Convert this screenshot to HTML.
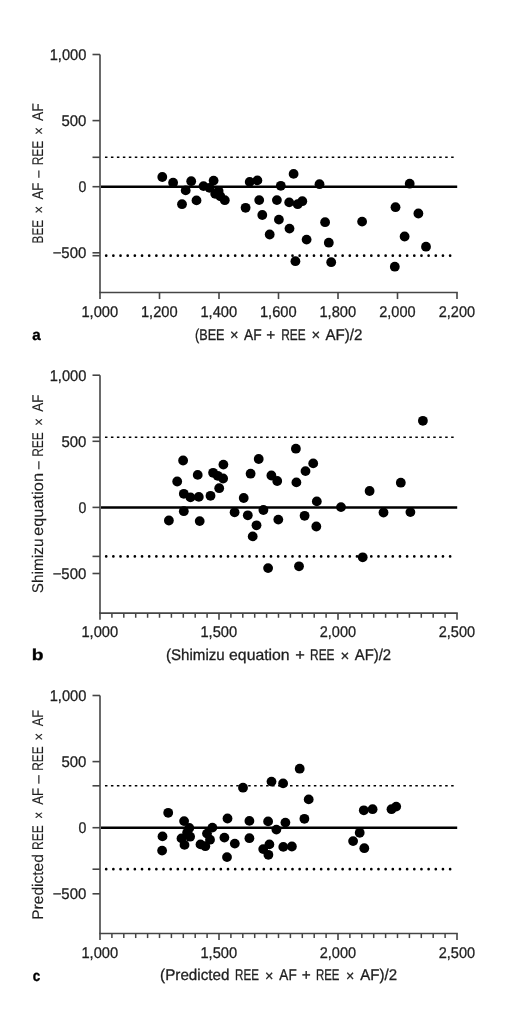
<!DOCTYPE html>
<html><head><meta charset="utf-8"><title>Bland-Altman plots</title>
<style>
html,body{margin:0;padding:0;background:#fff;}
body{width:520px;height:1032px;overflow:hidden;}
svg{display:block;will-change:transform;text-rendering:geometricPrecision;}
text{font-family:"Liberation Sans",sans-serif;font-size:15.5px;fill:#1e1e1e;stroke:#1e1e1e;stroke-width:0.3px;}
text.vt{stroke-width:0.12px;}
text.lt{font-weight:bold;fill:#000;stroke:#000;stroke-width:0.35px;}
.ax{stroke:#454545;stroke-width:1.6;}
.mn{stroke-width:1.5;}
circle{fill:#000;}
</style></head><body>
<svg width="520" height="1032" viewBox="0 0 520 1032">
<rect width="520" height="1032" fill="#fff"/>
<line x1="100" y1="54.50" x2="100" y2="292.46" class="ax"/>
<line x1="99.2" y1="292.46" x2="457.8" y2="292.46" class="ax"/>
<line x1="92.5" y1="54.50" x2="100" y2="54.50" class="ax"/>
<text x="49.70" y="59.90" textLength="36.62" lengthAdjust="spacingAndGlyphs">1,000</text>
<line x1="92.5" y1="120.60" x2="100" y2="120.60" class="ax"/>
<text x="61.40" y="126.00" textLength="24.95" lengthAdjust="spacingAndGlyphs">500</text>
<line x1="92.5" y1="186.70" x2="100" y2="186.70" class="ax"/>
<text x="78.44" y="192.10" textLength="7.84" lengthAdjust="spacingAndGlyphs">0</text>
<line x1="92.5" y1="252.80" x2="100" y2="252.80" class="ax"/>
<text x="52.65" y="258.20" textLength="33.68" lengthAdjust="spacingAndGlyphs">−500</text>
<line x1="92.5" y1="157.30" x2="100" y2="157.30" class="ax"/>
<line x1="92.5" y1="255.70" x2="100" y2="255.70" class="ax"/>
<line x1="100.00" y1="292.46" x2="100.00" y2="299.06" class="ax"/>
<text x="81.40" y="316.56" textLength="36.72" lengthAdjust="spacingAndGlyphs">1,000</text>
<line x1="159.50" y1="292.46" x2="159.50" y2="299.06" class="ax"/>
<text x="140.90" y="316.56" textLength="36.72" lengthAdjust="spacingAndGlyphs">1,200</text>
<line x1="219.00" y1="292.46" x2="219.00" y2="299.06" class="ax"/>
<text x="200.40" y="316.56" textLength="36.72" lengthAdjust="spacingAndGlyphs">1,400</text>
<line x1="278.50" y1="292.46" x2="278.50" y2="299.06" class="ax"/>
<text x="259.90" y="316.56" textLength="36.72" lengthAdjust="spacingAndGlyphs">1,600</text>
<line x1="338.00" y1="292.46" x2="338.00" y2="299.06" class="ax"/>
<text x="319.40" y="316.56" textLength="36.72" lengthAdjust="spacingAndGlyphs">1,800</text>
<line x1="397.50" y1="292.46" x2="397.50" y2="299.06" class="ax"/>
<text x="379.27" y="316.56" textLength="36.34" lengthAdjust="spacingAndGlyphs">2,000</text>
<line x1="457.00" y1="292.46" x2="457.00" y2="299.06" class="ax"/>
<text x="438.77" y="316.56" textLength="36.34" lengthAdjust="spacingAndGlyphs">2,200</text>
<line x1="104.95" y1="157.30" x2="453.7" y2="157.30" stroke="#000" stroke-width="1.5" stroke-dasharray="2.5 3.469"/>
<line x1="106.2" y1="255.70" x2="450.5" y2="255.70" stroke="#000" stroke-width="2.7" stroke-linecap="round" stroke-dasharray="0 7.165"/>
<line x1="101" y1="186.70" x2="457.2" y2="186.70" stroke="#000" stroke-width="2.5"/>
<circle cx="162.3" cy="177" r="4.9"/>
<circle cx="173.1" cy="182.7" r="4.9"/>
<circle cx="191.2" cy="181.2" r="4.9"/>
<circle cx="185.7" cy="190.4" r="4.9"/>
<circle cx="182" cy="204.2" r="4.9"/>
<circle cx="196.5" cy="200.4" r="4.9"/>
<circle cx="203.5" cy="186.1" r="4.9"/>
<circle cx="213.6" cy="180.6" r="4.9"/>
<circle cx="209.5" cy="187.8" r="4.9"/>
<circle cx="218.6" cy="191" r="4.9"/>
<circle cx="215.2" cy="193.8" r="4.9"/>
<circle cx="220.3" cy="196.3" r="4.9"/>
<circle cx="224.8" cy="200.2" r="4.9"/>
<circle cx="245.6" cy="207.8" r="4.9"/>
<circle cx="249.7" cy="181.9" r="4.9"/>
<circle cx="257.4" cy="180.4" r="4.9"/>
<circle cx="259.2" cy="200.1" r="4.9"/>
<circle cx="262.3" cy="215" r="4.9"/>
<circle cx="269.7" cy="234.5" r="4.9"/>
<circle cx="276.9" cy="200.1" r="4.9"/>
<circle cx="278.9" cy="219.6" r="4.9"/>
<circle cx="280.8" cy="185.8" r="4.9"/>
<circle cx="289.2" cy="202.4" r="4.9"/>
<circle cx="293.6" cy="173.9" r="4.9"/>
<circle cx="297.7" cy="204.2" r="4.9"/>
<circle cx="302.3" cy="201.2" r="4.9"/>
<circle cx="289.5" cy="228.6" r="4.9"/>
<circle cx="306.6" cy="239.6" r="4.9"/>
<circle cx="319.5" cy="184.2" r="4.9"/>
<circle cx="325.1" cy="222.2" r="4.9"/>
<circle cx="328.8" cy="242.7" r="4.9"/>
<circle cx="331.2" cy="262.2" r="4.9"/>
<circle cx="295.4" cy="261.2" r="4.9"/>
<circle cx="362.1" cy="221.6" r="4.9"/>
<circle cx="395.5" cy="207.2" r="4.9"/>
<circle cx="394.8" cy="266.7" r="4.9"/>
<circle cx="404.6" cy="236.5" r="4.9"/>
<circle cx="409.7" cy="183.7" r="4.9"/>
<circle cx="418.4" cy="213.5" r="4.9"/>
<circle cx="426" cy="246.7" r="4.9"/>
<text transform="translate(42.50 121.07) rotate(-90)" textLength="17.77" lengthAdjust="spacingAndGlyphs" font-size="15.3" class="vt">AF</text>
<text transform="translate(43.50 134.71) rotate(-90)" textLength="7.61" lengthAdjust="spacingAndGlyphs" font-size="15.3" class="vt">×</text>
<text transform="translate(42.50 165.36) rotate(-90)" textLength="24.76" lengthAdjust="spacingAndGlyphs" font-size="15.3" class="vt">REE</text>
<text transform="translate(43.70 178.54) rotate(-90)" textLength="8.67" lengthAdjust="spacingAndGlyphs" font-size="15.3" class="vt">−</text>
<text transform="translate(42.50 199.57) rotate(-90)" textLength="16.93" lengthAdjust="spacingAndGlyphs" font-size="15.3" class="vt">AF</text>
<text transform="translate(43.50 213.51) rotate(-90)" textLength="7.61" lengthAdjust="spacingAndGlyphs" font-size="15.3" class="vt">×</text>
<text transform="translate(42.50 243.44) rotate(-90)" textLength="23.52" lengthAdjust="spacingAndGlyphs" font-size="15.3" class="vt">BEE</text>
<text x="195.04" y="339.80" textLength="29.52" lengthAdjust="spacingAndGlyphs">(BEE</text>
<text x="229.88" y="340.40" textLength="8.53" lengthAdjust="spacingAndGlyphs">×</text>
<text x="243.93" y="339.80" textLength="17.66" lengthAdjust="spacingAndGlyphs">AF</text>
<text x="266.33" y="339.80" textLength="9.03" lengthAdjust="spacingAndGlyphs">+</text>
<text x="281.25" y="339.80" textLength="24.44" lengthAdjust="spacingAndGlyphs">REE</text>
<text x="311.46" y="340.40" textLength="8.66" lengthAdjust="spacingAndGlyphs">×</text>
<text x="325.52" y="339.80" textLength="36.93" lengthAdjust="spacingAndGlyphs">AF)/2</text>
<text x="32.35" y="339.70" textLength="8.42" lengthAdjust="spacingAndGlyphs" font-size="18.0" class="lt">a</text>
<line x1="100" y1="375.20" x2="100" y2="613.16" class="ax"/>
<line x1="99.2" y1="613.16" x2="457.8" y2="613.16" class="ax"/>
<line x1="92.5" y1="375.20" x2="100" y2="375.20" class="ax"/>
<text x="49.70" y="380.60" textLength="36.62" lengthAdjust="spacingAndGlyphs">1,000</text>
<line x1="92.5" y1="441.30" x2="100" y2="441.30" class="ax"/>
<text x="61.40" y="446.70" textLength="24.95" lengthAdjust="spacingAndGlyphs">500</text>
<line x1="92.5" y1="507.40" x2="100" y2="507.40" class="ax"/>
<text x="78.44" y="512.80" textLength="7.84" lengthAdjust="spacingAndGlyphs">0</text>
<line x1="92.5" y1="573.50" x2="100" y2="573.50" class="ax"/>
<text x="52.65" y="578.90" textLength="33.68" lengthAdjust="spacingAndGlyphs">−500</text>
<line x1="92.5" y1="437.30" x2="100" y2="437.30" class="ax"/>
<line x1="92.5" y1="556.40" x2="100" y2="556.40" class="ax"/>
<line x1="111.90" y1="613.16" x2="111.90" y2="617.76" class="ax mn"/>
<line x1="123.80" y1="613.16" x2="123.80" y2="617.76" class="ax mn"/>
<line x1="135.70" y1="613.16" x2="135.70" y2="617.76" class="ax mn"/>
<line x1="147.60" y1="613.16" x2="147.60" y2="617.76" class="ax mn"/>
<line x1="159.50" y1="613.16" x2="159.50" y2="617.76" class="ax mn"/>
<line x1="171.40" y1="613.16" x2="171.40" y2="617.76" class="ax mn"/>
<line x1="183.30" y1="613.16" x2="183.30" y2="617.76" class="ax mn"/>
<line x1="195.20" y1="613.16" x2="195.20" y2="617.76" class="ax mn"/>
<line x1="207.10" y1="613.16" x2="207.10" y2="617.76" class="ax mn"/>
<line x1="230.90" y1="613.16" x2="230.90" y2="617.76" class="ax mn"/>
<line x1="242.80" y1="613.16" x2="242.80" y2="617.76" class="ax mn"/>
<line x1="254.70" y1="613.16" x2="254.70" y2="617.76" class="ax mn"/>
<line x1="266.60" y1="613.16" x2="266.60" y2="617.76" class="ax mn"/>
<line x1="278.50" y1="613.16" x2="278.50" y2="617.76" class="ax mn"/>
<line x1="290.40" y1="613.16" x2="290.40" y2="617.76" class="ax mn"/>
<line x1="302.30" y1="613.16" x2="302.30" y2="617.76" class="ax mn"/>
<line x1="314.20" y1="613.16" x2="314.20" y2="617.76" class="ax mn"/>
<line x1="326.10" y1="613.16" x2="326.10" y2="617.76" class="ax mn"/>
<line x1="349.90" y1="613.16" x2="349.90" y2="617.76" class="ax mn"/>
<line x1="361.80" y1="613.16" x2="361.80" y2="617.76" class="ax mn"/>
<line x1="373.70" y1="613.16" x2="373.70" y2="617.76" class="ax mn"/>
<line x1="385.60" y1="613.16" x2="385.60" y2="617.76" class="ax mn"/>
<line x1="397.50" y1="613.16" x2="397.50" y2="617.76" class="ax mn"/>
<line x1="409.40" y1="613.16" x2="409.40" y2="617.76" class="ax mn"/>
<line x1="421.30" y1="613.16" x2="421.30" y2="617.76" class="ax mn"/>
<line x1="433.20" y1="613.16" x2="433.20" y2="617.76" class="ax mn"/>
<line x1="445.10" y1="613.16" x2="445.10" y2="617.76" class="ax mn"/>
<line x1="100.00" y1="613.16" x2="100.00" y2="619.76" class="ax"/>
<text x="81.40" y="637.26" textLength="36.72" lengthAdjust="spacingAndGlyphs">1,000</text>
<line x1="219.00" y1="613.16" x2="219.00" y2="619.76" class="ax"/>
<text x="200.40" y="637.26" textLength="36.72" lengthAdjust="spacingAndGlyphs">1,500</text>
<line x1="338.00" y1="613.16" x2="338.00" y2="619.76" class="ax"/>
<text x="319.77" y="637.26" textLength="36.34" lengthAdjust="spacingAndGlyphs">2,000</text>
<line x1="457.00" y1="613.16" x2="457.00" y2="619.76" class="ax"/>
<text x="438.77" y="637.26" textLength="36.34" lengthAdjust="spacingAndGlyphs">2,500</text>
<line x1="104.95" y1="437.30" x2="453.7" y2="437.30" stroke="#000" stroke-width="1.5" stroke-dasharray="2.5 3.469"/>
<line x1="106.2" y1="556.40" x2="450.5" y2="556.40" stroke="#000" stroke-width="2.7" stroke-linecap="round" stroke-dasharray="0 7.165"/>
<line x1="101" y1="507.40" x2="457.2" y2="507.40" stroke="#000" stroke-width="2.5"/>
<circle cx="183.1" cy="460.5" r="4.9"/>
<circle cx="177.2" cy="481.5" r="4.9"/>
<circle cx="197.7" cy="474.9" r="4.9"/>
<circle cx="223.4" cy="464.6" r="4.9"/>
<circle cx="213.1" cy="472.8" r="4.9"/>
<circle cx="217.7" cy="475.8" r="4.9"/>
<circle cx="223.1" cy="478.5" r="4.9"/>
<circle cx="219.2" cy="488.2" r="4.9"/>
<circle cx="183.8" cy="493.8" r="4.9"/>
<circle cx="190.5" cy="497.4" r="4.9"/>
<circle cx="198.8" cy="496.9" r="4.9"/>
<circle cx="210.5" cy="495.8" r="4.9"/>
<circle cx="183.8" cy="511.2" r="4.9"/>
<circle cx="168.9" cy="520.5" r="4.9"/>
<circle cx="199.7" cy="521.1" r="4.9"/>
<circle cx="234.6" cy="512.3" r="4.9"/>
<circle cx="295.9" cy="448.7" r="4.9"/>
<circle cx="258.7" cy="459" r="4.9"/>
<circle cx="250.6" cy="473.7" r="4.9"/>
<circle cx="271.4" cy="475.5" r="4.9"/>
<circle cx="277.2" cy="481" r="4.9"/>
<circle cx="305.5" cy="471.1" r="4.9"/>
<circle cx="313.2" cy="463.4" r="4.9"/>
<circle cx="296.4" cy="482.4" r="4.9"/>
<circle cx="243.7" cy="498" r="4.9"/>
<circle cx="247.8" cy="515.3" r="4.9"/>
<circle cx="263.4" cy="510" r="4.9"/>
<circle cx="278.3" cy="519.6" r="4.9"/>
<circle cx="304.6" cy="515.8" r="4.9"/>
<circle cx="256.5" cy="525.3" r="4.9"/>
<circle cx="252.7" cy="536.4" r="4.9"/>
<circle cx="268.1" cy="568.1" r="4.9"/>
<circle cx="369.6" cy="491" r="4.9"/>
<circle cx="316.8" cy="501.4" r="4.9"/>
<circle cx="341" cy="507.1" r="4.9"/>
<circle cx="316.3" cy="526.5" r="4.9"/>
<circle cx="362.7" cy="557.3" r="4.9"/>
<circle cx="299" cy="566.3" r="4.9"/>
<circle cx="422.9" cy="420.8" r="4.9"/>
<circle cx="400.8" cy="482.7" r="4.9"/>
<circle cx="383.5" cy="512.5" r="4.9"/>
<circle cx="410.4" cy="512.1" r="4.9"/>
<text transform="translate(42.50 411.77) rotate(-90)" textLength="17.25" lengthAdjust="spacingAndGlyphs" font-size="15.3" class="vt">AF</text>
<text transform="translate(43.50 425.81) rotate(-90)" textLength="7.61" lengthAdjust="spacingAndGlyphs" font-size="15.3" class="vt">×</text>
<text transform="translate(42.50 456.86) rotate(-90)" textLength="24.65" lengthAdjust="spacingAndGlyphs" font-size="15.3" class="vt">REE</text>
<text transform="translate(43.70 470.11) rotate(-90)" textLength="9.51" lengthAdjust="spacingAndGlyphs" font-size="15.3" class="vt">−</text>
<text transform="translate(42.50 535.94) rotate(-90)" textLength="63.04" lengthAdjust="spacingAndGlyphs" font-size="15.3" class="vt">equation</text>
<text transform="translate(42.50 593.19) rotate(-90)" textLength="54.62" lengthAdjust="spacingAndGlyphs" font-size="15.3" class="vt">Shimizu</text>
<text x="165.99" y="660.40" textLength="58.79" lengthAdjust="spacingAndGlyphs">(Shimizu</text>
<text x="229.09" y="660.40" textLength="60.57" lengthAdjust="spacingAndGlyphs">equation</text>
<text x="295.18" y="660.40" textLength="9.63" lengthAdjust="spacingAndGlyphs">+</text>
<text x="310.05" y="660.40" textLength="24.44" lengthAdjust="spacingAndGlyphs">REE</text>
<text x="340.45" y="661.00" textLength="8.79" lengthAdjust="spacingAndGlyphs">×</text>
<text x="354.73" y="660.40" textLength="36.42" lengthAdjust="spacingAndGlyphs">AF)/2</text>
<text x="31.85" y="660.10" textLength="11.73" lengthAdjust="spacingAndGlyphs" font-size="18.0" class="lt">b</text>
<line x1="100" y1="695.50" x2="100" y2="933.46" class="ax"/>
<line x1="99.2" y1="933.46" x2="457.8" y2="933.46" class="ax"/>
<line x1="92.5" y1="695.50" x2="100" y2="695.50" class="ax"/>
<text x="49.70" y="700.90" textLength="36.62" lengthAdjust="spacingAndGlyphs">1,000</text>
<line x1="92.5" y1="761.60" x2="100" y2="761.60" class="ax"/>
<text x="61.40" y="767.00" textLength="24.95" lengthAdjust="spacingAndGlyphs">500</text>
<line x1="92.5" y1="827.70" x2="100" y2="827.70" class="ax"/>
<text x="78.44" y="833.10" textLength="7.84" lengthAdjust="spacingAndGlyphs">0</text>
<line x1="92.5" y1="893.80" x2="100" y2="893.80" class="ax"/>
<text x="52.65" y="899.20" textLength="33.68" lengthAdjust="spacingAndGlyphs">−500</text>
<line x1="92.5" y1="785.80" x2="100" y2="785.80" class="ax"/>
<line x1="92.5" y1="869.20" x2="100" y2="869.20" class="ax"/>
<line x1="111.90" y1="933.46" x2="111.90" y2="938.06" class="ax mn"/>
<line x1="123.80" y1="933.46" x2="123.80" y2="938.06" class="ax mn"/>
<line x1="135.70" y1="933.46" x2="135.70" y2="938.06" class="ax mn"/>
<line x1="147.60" y1="933.46" x2="147.60" y2="938.06" class="ax mn"/>
<line x1="159.50" y1="933.46" x2="159.50" y2="938.06" class="ax mn"/>
<line x1="171.40" y1="933.46" x2="171.40" y2="938.06" class="ax mn"/>
<line x1="183.30" y1="933.46" x2="183.30" y2="938.06" class="ax mn"/>
<line x1="195.20" y1="933.46" x2="195.20" y2="938.06" class="ax mn"/>
<line x1="207.10" y1="933.46" x2="207.10" y2="938.06" class="ax mn"/>
<line x1="230.90" y1="933.46" x2="230.90" y2="938.06" class="ax mn"/>
<line x1="242.80" y1="933.46" x2="242.80" y2="938.06" class="ax mn"/>
<line x1="254.70" y1="933.46" x2="254.70" y2="938.06" class="ax mn"/>
<line x1="266.60" y1="933.46" x2="266.60" y2="938.06" class="ax mn"/>
<line x1="278.50" y1="933.46" x2="278.50" y2="938.06" class="ax mn"/>
<line x1="290.40" y1="933.46" x2="290.40" y2="938.06" class="ax mn"/>
<line x1="302.30" y1="933.46" x2="302.30" y2="938.06" class="ax mn"/>
<line x1="314.20" y1="933.46" x2="314.20" y2="938.06" class="ax mn"/>
<line x1="326.10" y1="933.46" x2="326.10" y2="938.06" class="ax mn"/>
<line x1="349.90" y1="933.46" x2="349.90" y2="938.06" class="ax mn"/>
<line x1="361.80" y1="933.46" x2="361.80" y2="938.06" class="ax mn"/>
<line x1="373.70" y1="933.46" x2="373.70" y2="938.06" class="ax mn"/>
<line x1="385.60" y1="933.46" x2="385.60" y2="938.06" class="ax mn"/>
<line x1="397.50" y1="933.46" x2="397.50" y2="938.06" class="ax mn"/>
<line x1="409.40" y1="933.46" x2="409.40" y2="938.06" class="ax mn"/>
<line x1="421.30" y1="933.46" x2="421.30" y2="938.06" class="ax mn"/>
<line x1="433.20" y1="933.46" x2="433.20" y2="938.06" class="ax mn"/>
<line x1="445.10" y1="933.46" x2="445.10" y2="938.06" class="ax mn"/>
<line x1="100.00" y1="933.46" x2="100.00" y2="940.06" class="ax"/>
<text x="81.40" y="957.56" textLength="36.72" lengthAdjust="spacingAndGlyphs">1,000</text>
<line x1="219.00" y1="933.46" x2="219.00" y2="940.06" class="ax"/>
<text x="200.40" y="957.56" textLength="36.72" lengthAdjust="spacingAndGlyphs">1,500</text>
<line x1="338.00" y1="933.46" x2="338.00" y2="940.06" class="ax"/>
<text x="319.77" y="957.56" textLength="36.34" lengthAdjust="spacingAndGlyphs">2,000</text>
<line x1="457.00" y1="933.46" x2="457.00" y2="940.06" class="ax"/>
<text x="438.77" y="957.56" textLength="36.34" lengthAdjust="spacingAndGlyphs">2,500</text>
<line x1="104.95" y1="785.80" x2="453.7" y2="785.80" stroke="#000" stroke-width="1.5" stroke-dasharray="2.5 3.469"/>
<line x1="106.2" y1="869.20" x2="450.5" y2="869.20" stroke="#000" stroke-width="2.7" stroke-linecap="round" stroke-dasharray="0 7.165"/>
<line x1="101" y1="827.70" x2="457.2" y2="827.70" stroke="#000" stroke-width="2.5"/>
<circle cx="168.2" cy="812.8" r="4.9"/>
<circle cx="162.5" cy="836.4" r="4.9"/>
<circle cx="162.1" cy="850.6" r="4.9"/>
<circle cx="184.1" cy="821.1" r="4.9"/>
<circle cx="189.3" cy="828" r="4.9"/>
<circle cx="187.1" cy="832.8" r="4.9"/>
<circle cx="190.1" cy="836.7" r="4.9"/>
<circle cx="181.5" cy="838.4" r="4.9"/>
<circle cx="184.5" cy="844.9" r="4.9"/>
<circle cx="212.4" cy="827.6" r="4.9"/>
<circle cx="207" cy="833.6" r="4.9"/>
<circle cx="210" cy="839.7" r="4.9"/>
<circle cx="200.5" cy="844.4" r="4.9"/>
<circle cx="205.3" cy="846.2" r="4.9"/>
<circle cx="227.5" cy="818.5" r="4.9"/>
<circle cx="224.4" cy="837.6" r="4.9"/>
<circle cx="234.8" cy="843.6" r="4.9"/>
<circle cx="227" cy="857.1" r="4.9"/>
<circle cx="299.7" cy="768.7" r="4.9"/>
<circle cx="271.5" cy="781.6" r="4.9"/>
<circle cx="283.1" cy="783.4" r="4.9"/>
<circle cx="243" cy="787.7" r="4.9"/>
<circle cx="308.7" cy="799.4" r="4.9"/>
<circle cx="249.4" cy="820.9" r="4.9"/>
<circle cx="268.1" cy="821.4" r="4.9"/>
<circle cx="285.4" cy="822.6" r="4.9"/>
<circle cx="304.4" cy="818.8" r="4.9"/>
<circle cx="276.4" cy="829.6" r="4.9"/>
<circle cx="249.4" cy="838.2" r="4.9"/>
<circle cx="269.4" cy="844.4" r="4.9"/>
<circle cx="263.2" cy="849.1" r="4.9"/>
<circle cx="268.4" cy="854.8" r="4.9"/>
<circle cx="283.3" cy="846.9" r="4.9"/>
<circle cx="291.9" cy="846.5" r="4.9"/>
<circle cx="363.8" cy="810.3" r="4.9"/>
<circle cx="372.6" cy="809.2" r="4.9"/>
<circle cx="391.5" cy="809.2" r="4.9"/>
<circle cx="396.2" cy="806.6" r="4.9"/>
<circle cx="359.7" cy="832.8" r="4.9"/>
<circle cx="353.1" cy="841.1" r="4.9"/>
<circle cx="364.3" cy="848.2" r="4.9"/>
<text transform="translate(42.50 726.36) rotate(-90)" textLength="16.42" lengthAdjust="spacingAndGlyphs" font-size="15.3" class="vt">AF</text>
<text transform="translate(43.50 740.41) rotate(-90)" textLength="7.61" lengthAdjust="spacingAndGlyphs" font-size="15.3" class="vt">×</text>
<text transform="translate(42.50 770.64) rotate(-90)" textLength="24.23" lengthAdjust="spacingAndGlyphs" font-size="15.3" class="vt">REE</text>
<text transform="translate(43.70 784.14) rotate(-90)" textLength="9.75" lengthAdjust="spacingAndGlyphs" font-size="15.3" class="vt">−</text>
<text transform="translate(42.50 804.87) rotate(-90)" textLength="16.93" lengthAdjust="spacingAndGlyphs" font-size="15.3" class="vt">AF</text>
<text transform="translate(43.50 818.85) rotate(-90)" textLength="7.09" lengthAdjust="spacingAndGlyphs" font-size="15.3" class="vt">×</text>
<text transform="translate(42.50 849.96) rotate(-90)" textLength="24.76" lengthAdjust="spacingAndGlyphs" font-size="15.3" class="vt">REE</text>
<text transform="translate(42.50 919.74) rotate(-90)" textLength="65.65" lengthAdjust="spacingAndGlyphs" font-size="15.3" class="vt">Predicted</text>
<text x="160.09" y="980.30" textLength="69.45" lengthAdjust="spacingAndGlyphs">(Predicted</text>
<text x="235.07" y="980.30" textLength="23.80" lengthAdjust="spacingAndGlyphs">REE</text>
<text x="265.09" y="980.90" textLength="8.40" lengthAdjust="spacingAndGlyphs">×</text>
<text x="279.33" y="980.30" textLength="17.35" lengthAdjust="spacingAndGlyphs">AF</text>
<text x="301.73" y="980.30" textLength="9.03" lengthAdjust="spacingAndGlyphs">+</text>
<text x="315.99" y="980.30" textLength="23.48" lengthAdjust="spacingAndGlyphs">REE</text>
<text x="346.11" y="980.90" textLength="8.27" lengthAdjust="spacingAndGlyphs">×</text>
<text x="360.32" y="980.30" textLength="36.72" lengthAdjust="spacingAndGlyphs">AF)/2</text>
<text x="32.66" y="980.70" textLength="7.45" lengthAdjust="spacingAndGlyphs" font-size="17.6" class="lt">c</text>
</svg>
</body></html>
